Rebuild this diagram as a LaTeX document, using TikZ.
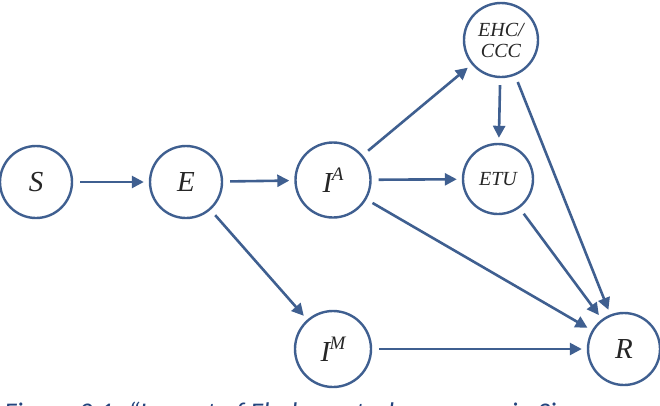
\documentclass[tikz,border=0pt]{standalone}
\usepackage{fontspec}
\setmainfont{Liberation Serif}
\newfontfamily\capfont{Carlito}
\usetikzlibrary{arrows.meta}
\definecolor{lineblue}{HTML}{3F5F90}
\definecolor{capblue}{HTML}{24457E}
\newcommand{\supx}[1]{\raisebox{0.42em}{\kern-0.5pt\fontsize{19}{20}\selectfont #1}}
\begin{document}
\begin{tikzpicture}[x=1pt,y=-1pt,
  state/.style={circle,draw=lineblue,line width=2.4pt,fill=white,inner sep=0pt,
    minimum size=#1,font=\itshape\fontsize{29}{32}\selectfont,text=black!85},
  state/.default=72pt,
  small/.style={font=\itshape\fontsize{20}{23}\selectfont,align=center},
  flow/.style={draw=lineblue,line width=2.6pt,
    -{Triangle[length=12pt,width=12pt]},shorten <=7pt,shorten >=5pt}]
\useasboundingbox (0,0) rectangle (660,405);
\node[state=72pt] (S) at (36,182) {S};
\node[state=72pt] (E) at (186,182) {E};
\node[state=75pt] (IA) at (333,180) {I\supx{A}};
\node[state=74pt,small] (EHC) at (501,40) {EHC/\\[-2pt]CCC};
\node[state=70pt,small] (ETU) at (498,179) {ETU};
\node[state=76pt] (IM) at (333,349) {I\supx{M}};
\node[state=72pt] (R) at (624,349) {R};
\draw[flow] (S) -- (E);
\draw[flow] (E) -- (IA);
\draw[flow] (E) -- (IM);
\draw[flow] (IA) -- (EHC);
\draw[flow] (IA) -- (ETU);
\draw[flow] (IA) -- (R);
\draw[flow] (EHC) -- (ETU);
\draw[flow] (EHC) -- (R);
\draw[flow] (ETU) -- (R);
\draw[flow] (IM) -- (R);
\node[anchor=base west,inner sep=0pt,text=capblue,font=\capfont\itshape\fontsize{27}{29}\selectfont] (cap) at (4,421) {Figure 2.1: “Impact of Ebola control measures in Sierra};
\end{tikzpicture}
\end{document}
